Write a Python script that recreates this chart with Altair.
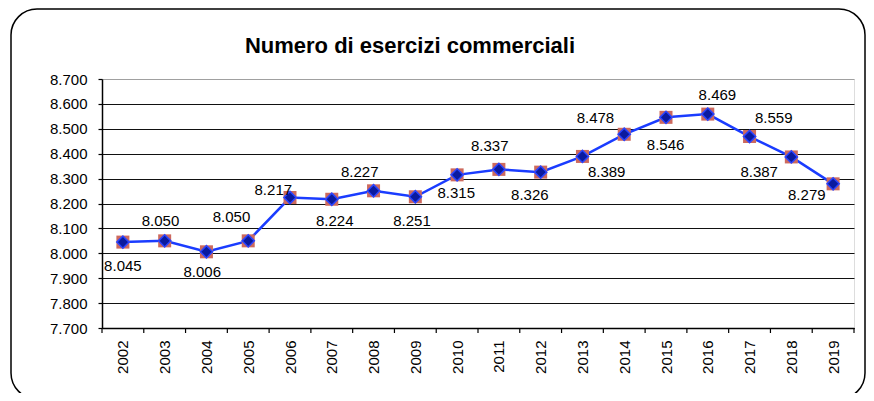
import altair as alt
import pandas as pd

years = list(range(2002, 2020))
values = [8045, 8050, 8006, 8050, 8224, 8217, 8251, 8227, 8315, 8337,
          8326, 8389, 8478, 8546, 8559, 8469, 8387, 8279]

# data labels as they appear in the picture (text, horizontal anchor in year units, vertical anchor in value units)
label_text = [8045, 8050, 8006, 8050, 8217, 8224, 8227, 8251, 8315, 8337,
              8326, 8478, 8389, 8546, 8469, 8559, 8387, 8279]
label_x = [2002.0, 2002.9, 2003.9, 2004.6, 2005.6, 2007.07, 2007.67, 2008.92, 2009.98, 2010.78,
           2011.74, 2013.31, 2013.58, 2014.99, 2016.23, 2017.58, 2017.23, 2018.37]
label_y = [7951, 8130, 7923, 8144, 8255, 8130, 8328, 8130, 8241, 8432,
           8234, 8543, 8328, 8435, 8636, 8543, 8325, 8234]

y_ticks = [7700, 7800, 7900, 8000, 8100, 8200, 8300, 8400, 8500, 8600, 8700]
title_text = "Numero di esercizi commerciali"

FONT = "Liberation Sans, Arial, sans-serif"
W, H = 752, 249

df = pd.DataFrame({"year": years, "value": values})
lab = pd.DataFrame({"lx": label_x, "ly": label_y, "t": label_text})
bounds = pd.DataFrame({"b": [y - 0.5 for y in years] + [years[-1] + 0.5]})
one = pd.DataFrame({"a": [0]})

xscale = alt.Scale(domain=[years[0] - 0.5, years[-1] + 0.5], nice=False, zero=False)
yscale = alt.Scale(domain=[y_ticks[0], y_ticks[-1]], nice=False, zero=False)

xax = alt.Axis(values=years, format="d", labelAngle=-90, ticks=False, grid=False,
               domainColor="#000000", domainWidth=1.5, labelPadding=12,
               labelFontSize=15, labelFont=FONT, labelColor="#000000", title=None)
yax = alt.Axis(values=y_ticks, labelExpr="replace(format(datum.value, ',d'), ',', '.')",
               tickSize=4, tickColor="#000000", tickWidth=1.2,
               domainColor="#000000", domainWidth=1.5, grid=True,
               gridColor={"condition": {"test": "datum.value == 8700", "value": "#a0a0a0"}, "value": "#111111"},
               gridWidth=1, labelPadding=11, labelFontSize=15, labelFont=FONT,
               labelColor="#000000", title=None)

def X(f):
    return alt.X(f, scale=xscale, axis=xax)

def Y(f):
    return alt.Y(f, scale=yscale, axis=yax)

frame = alt.Chart(one).mark_rect(
    fill="transparent", stroke="#000000", strokeWidth=1.5, cornerRadius=26
).encode(x=alt.value(-91), x2=alt.value(763), y=alt.value(-70), y2=alt.value(320))

title = alt.Chart(one).mark_text(
    text=title_text, fontSize=22, font=FONT, fontWeight="bold", color="#000000",
    align="center", baseline="alphabetic"
).encode(x=alt.value(308), y=alt.value(-26))

line = alt.Chart(df).mark_line(color="#1a3cff", strokeWidth=2.5).encode(
    x=X("year:Q"), y=Y("value:Q"))

squares = alt.Chart(df).mark_point(
    shape="square", filled=True, fill="#cd6a5e", size=169, opacity=1, strokeWidth=0
).encode(x=X("year:Q"), y=Y("value:Q"))

diamonds = alt.Chart(df).mark_point(
    shape="diamond", filled=True, fill="#0b1a9e", stroke="#2a44ff", strokeWidth=1.5,
    size=150, opacity=1
).encode(x=X("year:Q"), y=Y("value:Q"))

labels = alt.Chart(lab).transform_calculate(
    txt="replace(format(datum.t, ',d'), ',', '.')"
).mark_text(fontSize=15, font=FONT, color="#000000", baseline="middle", align="center").encode(
    x=X("lx:Q"), y=Y("ly:Q"), text="txt:N")

ticks = alt.Chart(bounds).mark_rule(color="#000000", strokeWidth=1.2).encode(
    x=X("b:Q"), y=alt.value(H), y2=alt.value(H + 5))

chart = alt.layer(frame, title, line, squares, diamonds, labels, ticks).properties(
    width=W, height=H,
    autosize=alt.AutoSizeParams(type="none"),
    padding={"left": 94, "top": 71, "right": 12, "bottom": 65},
).configure_view(stroke="#a0a0a0", strokeWidth=2).configure(background="white")

chart.save("out.html", embed_options={"renderer": "svg", "actions": False})
